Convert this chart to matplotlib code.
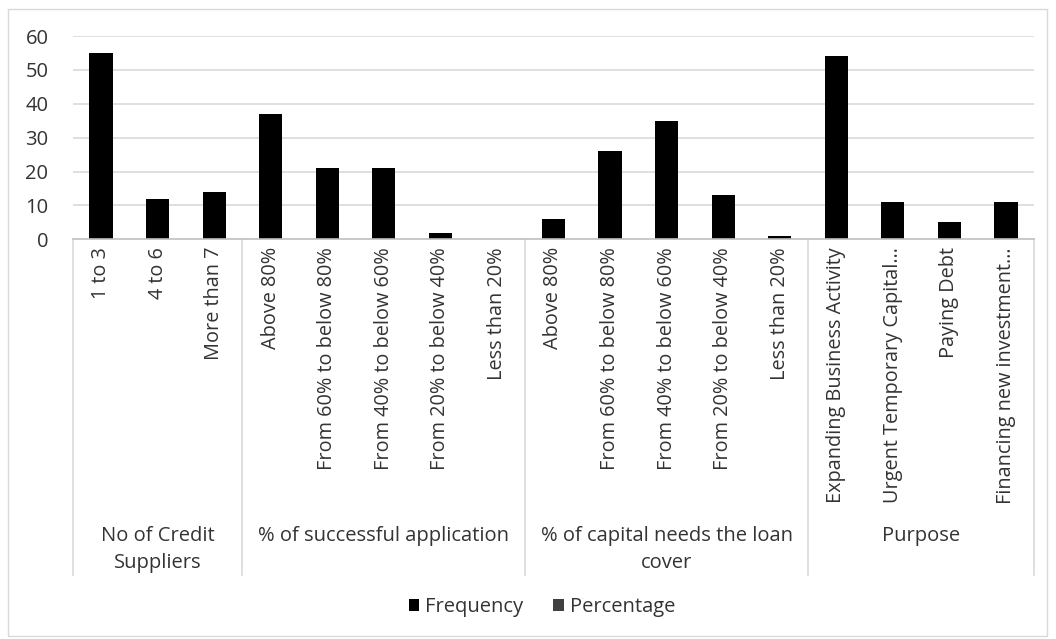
import matplotlib
matplotlib.use("Agg")
import matplotlib.pyplot as plt
from matplotlib.patches import Rectangle, Patch
from matplotlib.lines import Line2D
import matplotlib.transforms as mtransforms

# ---- data ----
groups = ["No of Credit\nSuppliers", "% of successful application",
          "% of capital needs the loan\ncover", "Purpose"]
group_sizes = [3, 5, 5, 4]
categories = ["1 to 3", "4 to 6", "More than 7",
              "Above 80%", "From 60% to below 80%", "From 40% to below 60%",
              "From 20% to below 40%", "Less than 20%",
              "Above 80%", "From 60% to below 80%", "From 40% to below 60%",
              "From 20% to below 40%", "Less than 20%",
              "Expanding Business Activity", "Urgent Temporary Capital\u2026",
              "Paying Debt", "Financing new investment\u2026"]
frequency = [55, 12, 14, 37, 21, 21, 2, 0, 6, 26, 35, 13, 1, 54, 11, 5, 11]
yticks = [0, 10, 20, 30, 40, 50, 60]
series_names = ["Frequency", "Percentage"]
series_colors = ["#000000", "#404040"]

W, H = 1056, 639
plt.rcParams['font.family'] = ['Open Sans', 'DejaVu Sans']
FS = 14.5
FS_IN = 14.3
TXT = "#333333"

fig = plt.figure(figsize=(W / 100, H / 100), dpi=100)

def fx(p):
    return p / W

def fy(p):
    return (H - p) / H

# outer chart border
fig.patches.append(Rectangle((fx(8), fy(636)), fx(1047) - fx(8), fy(9) - fy(636),
                             transform=fig.transFigure, fill=False,
                             edgecolor="#d9d9d9", linewidth=1.0))

ax_left, ax_right, ax_top, ax_bot = 72.7, 1034.3, 36.0, 239.3
ax = fig.add_axes([fx(ax_left), fy(ax_bot), fx(ax_right) - fx(ax_left), fy(ax_top) - fy(ax_bot)])
n = len(categories)
x = list(range(n))
ax.bar(x, frequency, width=0.41, color=series_colors[0], zorder=3)
ax.set_xlim(-0.5, n - 0.5)
ax.set_ylim(0, 60)
ax.set_yticks(yticks)
ax.set_yticklabels([str(v) for v in yticks], fontsize=FS, color=TXT)
ax.tick_params(axis='y', length=0, pad=17.5)
ax.set_xticks([])
for s in ax.spines.values():
    s.set_visible(False)
for v in yticks[1:]:
    ax.axhline(v, color="#d9d9d9", linewidth=1.2, zorder=1)
ax.axhline(0, color="#bfbfbf", linewidth=1.2, zorder=4, clip_on=False)

trans = mtransforms.blended_transform_factory(ax.transData, fig.transFigure)

# inner category labels
for i, lab in enumerate(categories):
    ax.text(i, fy(247), lab, rotation=90, ha='center', va='top',
            fontsize=FS_IN, color=TXT, transform=trans, clip_on=False)

# group separators and labels
bounds = [-0.5]
for g in group_sizes:
    bounds.append(bounds[-1] + g)
for b in bounds:
    ax.add_line(Line2D([b, b], [fy(ax_bot), fy(575)], transform=trans,
                       color="#d9d9d9", linewidth=1.2, clip_on=False))
for gi, g in enumerate(groups):
    c = (bounds[gi] + bounds[gi + 1]) / 2
    ax.text(c, fy(526), g, ha='center', va='top', fontsize=FS, color=TXT,
            transform=trans, clip_on=False, linespacing=1.45)

handles = [Patch(facecolor=series_colors[i], edgecolor='none', label=series_names[i])
           for i in range(2)]
leg = fig.legend(handles=handles, loc='center', bbox_to_anchor=(fx(542), fy(607)),
                 ncol=2, frameon=False, fontsize=FS, handlelength=0.5,
                 handleheight=0.5, handletextpad=0.3, columnspacing=1.5)
for t in leg.get_texts():
    t.set_color(TXT)

fig.savefig("out.png", dpi=100)
